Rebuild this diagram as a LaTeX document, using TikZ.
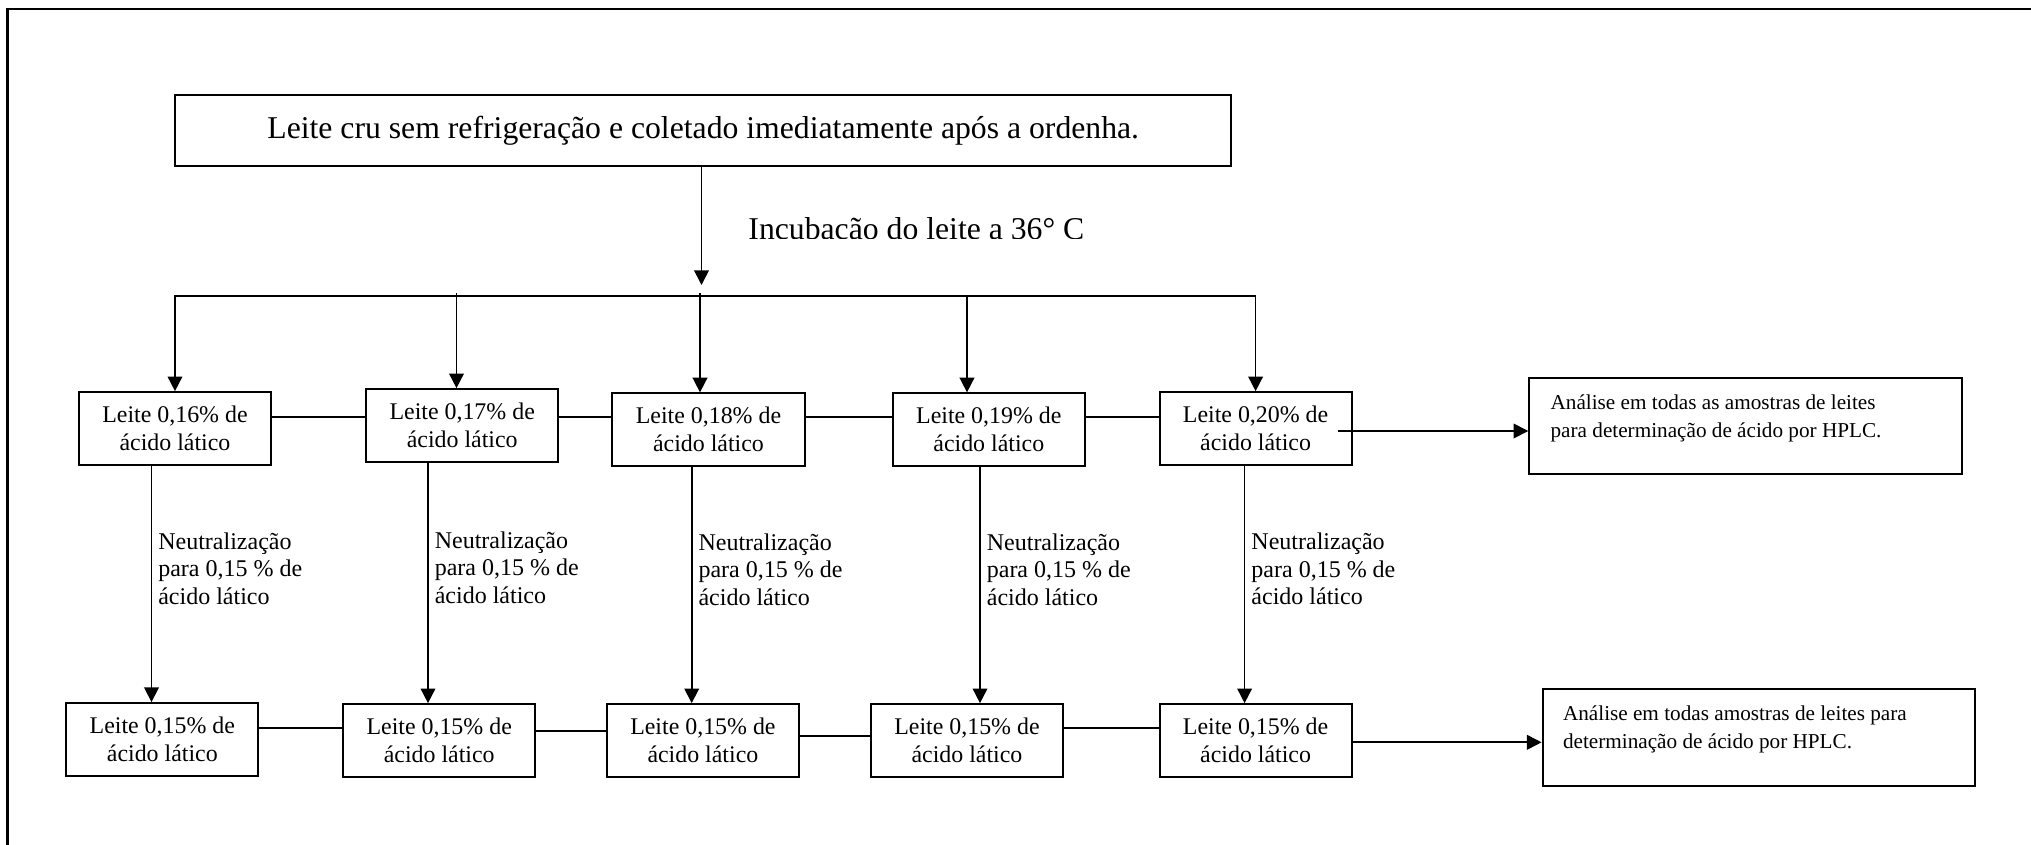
\documentclass[tikz,border=0pt]{standalone}
\usepackage{fontspec}
\setmainfont{Liberation Serif}
\usetikzlibrary{arrows.meta}
\begin{document}
\begin{tikzpicture}[x=0.45pt,y=-0.45pt,
  ln/.style={line width=0.75pt},
  arr/.style={ln,-{Triangle[length=6.6pt,width=6.6pt]}},
  arrtwo/.style={ln,{Triangle[length=6.6pt,width=6.6pt]}-{Triangle[length=6.6pt,width=6.6pt]}},
  lbox/.style={draw,line width=0.9pt,minimum width=86.5pt,minimum height=32.7pt,inner sep=0pt,align=center,font=\fontsize{10.75pt}{12.6pt}\selectfont},
  topbox/.style={draw,line width=0.9pt,minimum width=475.4pt,minimum height=32.3pt,inner sep=0pt,font=\fontsize{14.27pt}{17pt}\selectfont},
  resbox/.style={draw,line width=0.9pt,inner sep=0pt,font=\fontsize{9.54pt}{12.6pt}\selectfont},
  nlab/.style={anchor=west,inner sep=0pt,xshift=2.7pt,align=left,pos=0.435,font=\fontsize{10.8pt}{12.4pt}\selectfont}]
\useasboundingbox (0,0) rectangle (2031,844);
% frame
\draw[line width=1.1pt] (7.5,860) -- (7.5,9) -- (2045,9);
% top box
\node[topbox] (top) at (703.2,130.6) {Leite cru sem refrigeração e coletado imediatamente após a ordenha.};
% row 1
\node[lbox] (a1) at (175,428.5) {Leite 0,16\% de\\ácido lático};
\node[lbox] (a2) at (462.2,425.5) {Leite 0,17\% de\\ácido lático};
\node[lbox] (a3) at (708.5,429.7) {Leite 0,18\% de\\ácido lático};
\node[lbox] (a4) at (988.8,429.7) {Leite 0,19\% de\\ácido lático};
\node[lbox] (a5) at (1255.6,428.5) {Leite 0,20\% de\\ácido lático};
% row 2
\node[lbox] (b1) at (162.3,739.4) {Leite 0,15\% de\\ácido lático};
\node[lbox] (b2) at (439.2,740.5) {Leite 0,15\% de\\ácido lático};
\node[lbox] (b3) at (702.9,740.5) {Leite 0,15\% de\\ácido lático};
\node[lbox] (b4) at (967,740.5) {Leite 0,15\% de\\ácido lático};
\node[lbox] (b5) at (1255.6,740.5) {Leite 0,15\% de\\ácido lático};
% result boxes
\node[resbox] (res1) at (1745.5,426.3) {\parbox[c][43.2pt][t]{194.6pt}{\raggedright\leftskip=9.6pt\rule{0pt}{14.2pt}Análise em todas as amostras de leites\\para determinação de ácido por HPLC.}};
\node[resbox] (res2) at (1758.8,737.5) {\parbox[c][43.4pt][t]{194.6pt}{\raggedright\leftskip=9.2pt\rule{0pt}{14.2pt}Análise em todas amostras de leites para\\determinação de ácido por HPLC.}};
% incubation arrow and label
\coordinate (m) at (701.5,285);
\draw[arr] (top.south -| m) -- (m);
\begin{scope}
\clip (730,195) rectangle (1110,238.5);
\node[anchor=base west,inner sep=0pt,font=\fontsize{14.27pt}{17pt}\selectfont] (inc) at (748,239.3) {Incubação do leite a 36° C};
\end{scope}
% bus and drops
\coordinate (bus) at (0,296);
\draw[arrtwo] (a1.north) |- (a3.north |- bus) -| (a5.north);
\coordinate (k2) at (456.5,293);
\coordinate (k3) at (700,293);
\coordinate (k4) at (967,296);
\draw[arr] (k2) -- (k2 |- a2.north);
\draw[arr] (k3) -- (k3 |- a3.north);
\draw[arr] (k4) -- (k4 |- a4.north);
% row 1 links
\coordinate (h1) at (0,416.7);
\draw[ln] (a1.east |- h1) -- (a2.west |- h1);
\draw[ln] (a2.east |- h1) -- (a3.west |- h1);
\draw[ln] (a3.east |- h1) -- (a4.west |- h1);
\draw[ln] (a4.east |- h1) -- (a5.west |- h1);
% row 2 links
\coordinate (g1) at (0,728.3);
\coordinate (g2) at (0,731);
\coordinate (g3) at (0,735.7);
\coordinate (g4) at (0,728.3);
\draw[ln] (b1.east |- g1) -- (b2.west |- g1);
\draw[ln] (b2.east |- g2) -- (b3.west |- g2);
\draw[ln] (b3.east |- g3) -- (b4.west |- g3);
\draw[ln] (b4.east |- g4) -- (b5.west |- g4);
% neutralisation arrows
\coordinate (n1) at (151.5,0);
\coordinate (n2) at (428,0);
\coordinate (n3) at (691.7,0);
\coordinate (n4) at (980,0);
\coordinate (n5) at (1244.6,0);
\draw[arr] (n1 |- a1.south) -- node[nlab] {Neutralização\\para 0,15 \% de\\ácido lático} (n1 |- b1.north);
\draw[arr] (n2 |- a2.south) -- node[nlab] {Neutralização\\para 0,15 \% de\\ácido lático} (n2 |- b2.north);
\draw[arr] (n3 |- a3.south) -- node[nlab] {Neutralização\\para 0,15 \% de\\ácido lático} (n3 |- b3.north);
\draw[arr] (n4 |- a4.south) -- node[nlab] {Neutralização\\para 0,15 \% de\\ácido lático} (n4 |- b4.north);
\draw[arr] (n5 |- a5.south) -- node[nlab] {Neutralização\\para 0,15 \% de\\ácido lático} (n5 |- b5.north);
% result arrows
\coordinate (s1) at (1338,431);
\coordinate (s2) at (0,742.3);
\draw[arr] (s1) -- (res1.west |- s1);
\draw[arr] (b5.east |- s2) -- (res2.west |- s2);
\end{tikzpicture}
\end{document}
